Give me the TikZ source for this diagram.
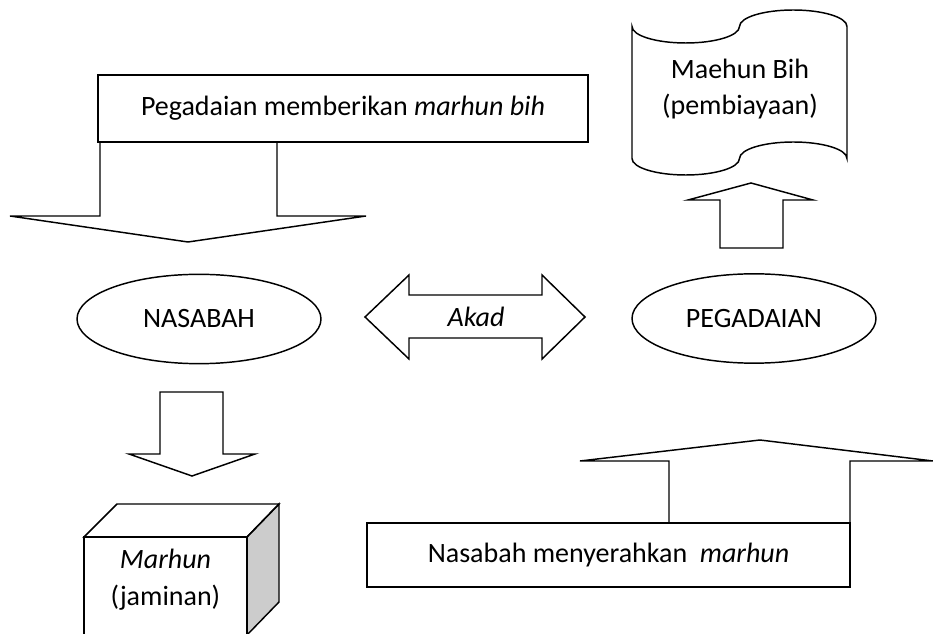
\documentclass[tikz,border=0pt]{standalone}
\usepackage{fontspec}
\setmainfont{Carlito}
\usetikzlibrary{shapes.geometric}
\tikzset{
  outl/.style={draw=black, line width=1.1pt},
  lbl/.style={font=\fontsize{21pt}{27.5pt}\selectfont, align=center, inner sep=0pt}
}
\begin{document}
\begin{tikzpicture}[x=0.75pt, y=-0.75pt]
\clip (0,0) rectangle (933,634);
\fill[white] (0,0) rectangle (933,634);
% top box and arrow down
\draw[outl] (98,75) rectangle (588,142);
\node[lbl] (beri) at (343,108.5) {Pegadaian memberikan \textit{marhun bih}};
\draw[outl] (100,142) -- (100,216) -- (10,216) -- (188,242) -- (366,216) -- (277,216) -- (277,142);
% punched tape
\draw[outl] (632,26.5) .. controls (632,35.6) and (656.1,43) .. (685.75,43)
  .. controls (715.4,43) and (739.5,35.6) .. (739.5,26.5)
  .. controls (739.5,17.4) and (763.6,10) .. (793.25,10)
  .. controls (822.9,10) and (847,17.4) .. (847,26.5) -- (847,158.5)
  .. controls (847,149.4) and (822.9,142) .. (793.25,142)
  .. controls (763.6,142) and (739.5,149.4) .. (739.5,158.5)
  .. controls (739.5,167.6) and (715.4,175) .. (685.75,175)
  .. controls (656.1,175) and (632,167.6) .. (632,158.5) -- cycle;
\node[lbl] (bih) at (740,89) {Maehun Bih\\(pembiayaan)};
\draw[outl] (720,248) -- (720,200) -- (688,200) -- (751,183) -- (813,200) -- (783,200) -- (783,248) -- cycle;
% ellipses and akad
\node[outl, lbl, ellipse, minimum width=183pt, minimum height=67pt] (nasabah) at (199,319) {NASABAH};
\node[outl, lbl, ellipse, minimum width=183pt, minimum height=67pt] (pegadaian) at (754,318.5) {PEGADAIAN};
\draw[outl] (365,317) -- (409,275) -- (409,295) -- (542,295) -- (542,275) -- (585,317)
  -- (542,359) -- (542,338) -- (409,338) -- (409,359) -- cycle;
\node[lbl] (akad) at (476,317) {\textit{Akad}};
% arrow down to marhun
\draw[outl] (160,392) -- (223,392) -- (223,454) -- (255,454) -- (192,476) -- (129,454) -- (160,454) -- cycle;
% marhun box
\draw[outl, fill=black!20] (247,537) -- (279,504) -- (279,602) -- (247,635) -- cycle;
\draw[outl] (84,537) -- (117,504) -- (279,504) -- (247,537) -- cycle;
\draw[outl] (84,537) rectangle (247,645);
\node[lbl] (marhun) at (165.5,580) {\textit{Marhun}\\(jaminan)};
% bottom box and arrow up
\draw[outl] (367,523) rectangle (850,587);
\node[lbl] (serah) at (608.5,555) {Nasabah menyerahkan~ \textit{marhun}};
\draw[outl] (669,523) -- (669,461) -- (580,461) -- (760,440) -- (933,461) -- (850,461) -- (850,523);
\end{tikzpicture}
\end{document}
